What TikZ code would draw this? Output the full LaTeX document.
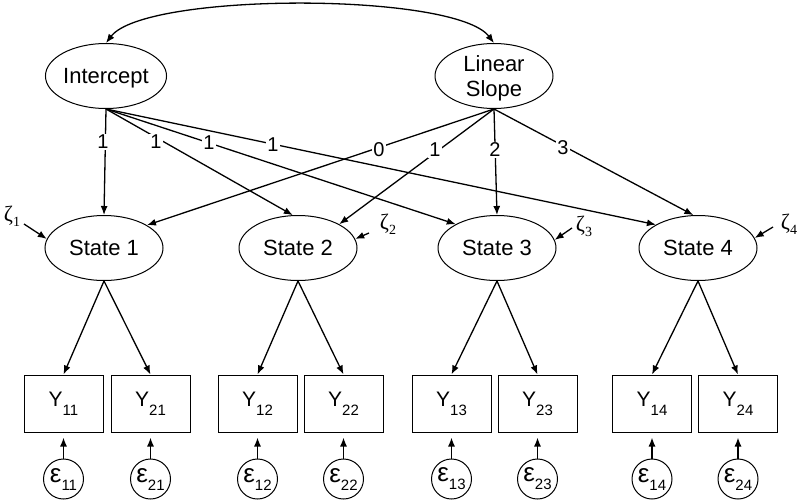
\documentclass[tikz,border=0pt]{standalone}
\usepackage{fontspec}
\setmainfont{Liberation Sans}
\newfontfamily\zfont{Liberation Serif}
\usetikzlibrary{arrows.meta,shapes.geometric}
\newcommand{\ysub}[1]{\fontsize{21}{21}\selectfont Y\raisebox{-9pt}{\fontsize{15}{15}\selectfont #1}}
\newcommand{\epssub}[1]{\makebox[0pt]{\fontsize{26}{26}\selectfont ε\raisebox{-8pt}{\fontsize{15}{15}\selectfont #1}}}
\newcommand{\zsub}[1]{ζ\raisebox{-5pt}{\fontsize{14}{14}\selectfont #1}}
\begin{document}
\begin{tikzpicture}[x=1pt,y=-1pt,
  >={Latex[length=9pt,width=7pt]},
  lat/.style={ellipse,draw,line width=1pt,minimum width=118pt,minimum height=65pt,inner sep=0pt,
    font=\fontsize{22}{25}\selectfont,text depth=0pt,align=center},
  obs/.style={rectangle,draw,line width=1pt,minimum width=79pt,minimum height=57pt,inner sep=0pt},
  err/.style={circle,draw,line width=1pt,minimum size=40pt,inner sep=0pt},
  lbl/.style={fill=white,inner sep=1pt,font=\fontsize{20}{20}\selectfont},
  zlab/.style={inner sep=0pt,font=\zfont\fontsize{22}{22}\selectfont},
  arr/.style={->,line width=1.3pt}
]
\useasboundingbox (0,0) rectangle (800,503);

% latent growth factors
\node[lat] (I) at (106,76) {Intercept};
\node[lat] (L) at (494,76) {Linear\\Slope};

% states
\node[lat] (s1) at (104,248) {State 1};
\node[lat] (s2) at (298,248) {State 2};
\node[lat] (s3) at (497,248) {State 3};
\node[lat] (s4) at (698,248) {State 4};

% observed
\foreach \n/\x in {11/63.5,21/150.5,12/257.5,22/343.5,13/451.5,23/537.5,14/652,24/738}{
  \node[obs] (y\n) at (\x,403.5) {\ysub{\n}};
  \node[err] (e\n) at (\x,479) {\epssub{\n}};
  \draw[arr,shorten >=5pt] (e\n) -- (y\n);
}

% covariance
\draw[<->,line width=1.3pt] (I.north) .. controls (145,-8) and (455,-8) .. (L.north);

% intercept loadings
\draw[arr] (I.south) -- (s1.north);
\draw[arr] (I.south) -- (s2.99);
\draw[arr] (I.south) -- (s3.150);
\draw[arr] (I.south) -- (s4.151);

% slope loadings
\draw[arr] (L.south) -- (s1.28);
\draw[arr] (L.south) -- (s2.30);
\draw[arr] (L.south) -- (s3.north);
\draw[arr] (L.south) -- (s4.98);

% labels
\node[lbl] (li1) at (103,142) {1};
\node[lbl] (li2) at (156,142) {1};
\node[lbl] (li3) at (209,143) {1};
\node[lbl] (li4) at (273,145) {1};
\node[lbl] (ls1) at (379,150) {0};
\node[lbl] (ls2) at (435,150) {1};
\node[lbl] (ls3) at (495,150) {2};
\node[lbl] (ls4) at (563,148) {3};

% state to indicators
\draw[arr] (s1.south) -- (y11.north);
\draw[arr] (s1.south) -- (y21.north);
\draw[arr] (s2.south) -- (y12.north);
\draw[arr] (s2.south) -- (y22.north);
\draw[arr] (s3.south) -- (y13.north);
\draw[arr] (s3.south) -- (y23.north);
\draw[arr] (s4.south) -- (y14.north);
\draw[arr] (s4.south) -- (y24.north);

% disturbances
\node[zlab] (z1) at (12,216) {\zsub{1}};
\node[zlab] (z2) at (388,224) {\zsub{2}};
\node[zlab] (z3) at (584,226) {\zsub{3}};
\node[zlab] (z4) at (789,224) {\zsub{4}};
\coordinate (z1t) at (24,224);
\coordinate (z2t) at (369,233);
\coordinate (z3t) at (572,228);
\coordinate (z4t) at (773,227);
\draw[arr] (z1t) -- (s1.171);
\draw[arr] (z2t) -- (s2.9);
\draw[arr] (z3t) -- (s3.8);
\draw[arr] (z4t) -- (s4.10);
\end{tikzpicture}
\end{document}
